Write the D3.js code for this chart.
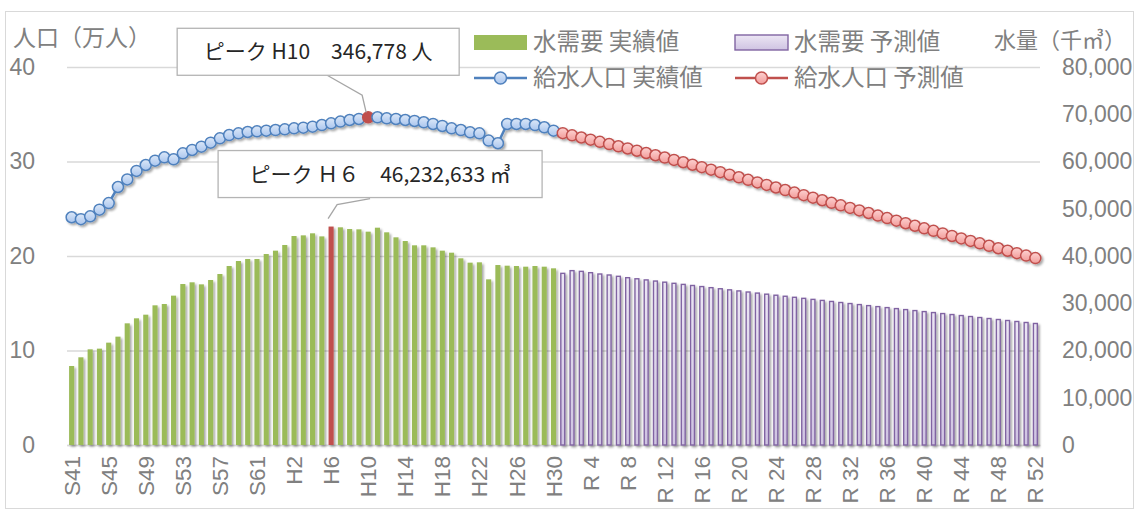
<!DOCTYPE html>
<html>
<head>
<meta charset="utf-8">
<script src="https://cdn.jsdelivr.net/npm/d3@7"></script>
<style>
  body { margin: 0; background: #fff; }
  svg { display: block; font-family: "Noto Sans CJK JP", "Noto Sans", sans-serif; }
  .tick text { fill: #808080; font-size: 23px; font-weight: 300; }
  .xaxis .tick text { font-size: 22.5px; }
</style>
</head>
<body>
<svg id="chart" width="1137" height="511"></svg>
<script>
// eras -> category labels (S41..S63, H1..H30, R1..R52)
var eras = [["S", 41, 63], ["H", 1, 30], ["R ", 1, 52]];
var categories = [];
eras.forEach(function(e) {
	for (var n = e[1]; n <= e[2]; n++) categories.push(e[0] + n);
});

var tickLabels = ["S41", "S45", "S49", "S53", "S57", "S61", "H2", "H6", "H10", "H14", "H18", "H22", "H26", "H30",
	"R 4", "R 8", "R 12", "R 16", "R 20", "R 24", "R 28", "R 32", "R 36", "R 40", "R 44", "R 48", "R 52"];

// 水需要 (千m3) S41..H30
var waterActual = [16720, 18560, 20250, 20390, 21660, 22930, 25750, 26810, 27580, 29560,
	29840, 31610, 34070, 34430, 34000, 34920, 36190, 37880, 38940, 39370,
	39370, 40420, 41130, 42330, 44230, 44370, 44800, 44150, 46233, 46070,
	45710, 45640, 45150, 45990, 45010, 43950, 43170, 42260, 42260, 41830,
	41130, 40700, 39510, 38590, 38660, 35060, 38090, 37950, 37880, 37740,
	37880, 37740, 37390];
// 水需要 予測 (千m3) R1..R52
var waterForecast = [36330, 36900, 36750, 36470, 36190, 35980, 35700, 35410, 35180, 34940,
	34700, 34460, 34220, 33990, 33760, 33530, 33300, 33070, 32840, 32610,
	32380, 32150, 31920, 31700, 31480, 31260, 31040, 30820, 30600, 30380,
	30160, 29940, 29720, 29500, 29290, 29080, 28870, 28660, 28450, 28240,
	28030, 27820, 27610, 27400, 27190, 26980, 26770, 26560, 26350, 26140,
	25930, 25720];

// 給水人口 (万人) S41..H30
var popActual = [24.1, 23.9, 24.2, 24.9, 25.6, 27.3, 28.1, 29.0, 29.63, 30.09,
	30.44, 30.23, 30.86, 31.22, 31.57, 31.99, 32.45, 32.80, 32.98, 33.12,
	33.19, 33.26, 33.33, 33.40, 33.51, 33.58, 33.69, 33.86, 34.04, 34.22,
	34.39, 34.50, 34.6778, 34.68, 34.57, 34.50, 34.39, 34.29, 34.15, 33.97,
	33.76, 33.51, 33.33, 33.09, 32.98, 32.21, 31.93, 33.97, 33.97, 33.97,
	33.86, 33.62, 33.26];
// 給水人口 予測 (万人) R1..R52
var popForecast = [33.00, 32.77, 32.54, 32.31, 32.08, 31.85, 31.61, 31.38, 31.14, 30.90,
	30.66, 30.42, 30.17, 29.92, 29.66, 29.40, 29.14, 28.87, 28.60, 28.33,
	28.06, 27.79, 27.52, 27.25, 26.98, 26.71, 26.44, 26.17, 25.90, 25.63,
	25.36, 25.09, 24.82, 24.55, 24.28, 24.01, 23.74, 23.47, 23.20, 22.93,
	22.66, 22.39, 22.12, 21.86, 21.60, 21.34, 21.08, 20.82, 20.56, 20.30,
	20.04, 19.78];

var leftTicks = [0, 10, 20, 30, 40];
var rightTicks = [0, 10000, 20000, 30000, 40000, 50000, 60000, 70000, 80000];

var peakPop = { label: "H10", text: "ピーク H10　346,778 人" };
var peakWater = { label: "H6", text: "ピーク Ｈ６　46,232,633 ㎥" };

var legendItems = [
	{ name: "水需要 実績値", type: "bar", fill: "#9bbb59", stroke: "none" },
	{ name: "水需要 予測値", type: "bar", fill: "url(#gPurple)", stroke: "#8064a2" },
	{ name: "給水人口 実績値", type: "line", fill: "url(#gBlue)", stroke: "#4f81bd" },
	{ name: "給水人口 予測値", type: "line", fill: "url(#gRed)", stroke: "#c0504d" }
];

var svg = d3.select("#chart");
var plotLeft = 67, plotRight = 1040, plotTop = 67, plotBottom = 445;

// defs: gradients and shadow
var defs = svg.append("defs");
function grad(id, c1, c2) {
	var g = defs.append("linearGradient").attr("id", id).attr("x1", 0).attr("y1", 0).attr("x2", 0).attr("y2", 1);
	g.append("stop").attr("offset", "0%").attr("stop-color", c1);
	g.append("stop").attr("offset", "100%").attr("stop-color", c2);
}
grad("gBlue", "#dce8f8", "#a9c5ee");
grad("gRed", "#fdd2d1", "#f29c9a");
grad("gPurple", "#ece6f4", "#cfc3e2");
var f = defs.append("filter").attr("id", "shadow").attr("x", "-50%").attr("y", "-50%").attr("width", "200%").attr("height", "200%");
f.append("feDropShadow").attr("dx", 1.8).attr("dy", 1.8).attr("stdDeviation", 1.2)
	.attr("flood-color", "#000").attr("flood-opacity", 0.35);

// outer frame
svg.append("rect").attr("x", 5.5).attr("y", 11.5).attr("width", 1128).attr("height", 497)
	.attr("fill", "none").attr("stroke", "#d9d9d9");

var x = d3.scaleBand().domain(categories).range([plotLeft, plotRight]).paddingInner(0.45).paddingOuter(0.225);
var yL = d3.scaleLinear().domain([0, 40]).range([plotBottom, plotTop]);
var yR = d3.scaleLinear().domain([0, 80000]).range([plotBottom, plotTop]);
var cx = function(c) { return x(c) + x.bandwidth() / 2; };

// gridlines
svg.append("g").attr("class", "grid").attr("transform", "translate(" + plotLeft + ",0)")
	.call(d3.axisLeft(yL).tickValues(leftTicks).tickSize(-(plotRight - plotLeft)).tickFormat(""))
	.call(function(g) {
		g.select(".domain").remove();
		g.selectAll("line").attr("stroke", "#d9d9d9").attr("stroke-width", 1.3);
	});

// left axis
svg.append("g").attr("transform", "translate(" + plotLeft + ",0)")
	.call(d3.axisLeft(yL).tickValues(leftTicks).tickSize(0).tickPadding(32))
	.call(function(g) { g.select(".domain").remove(); });

// right axis
svg.append("g").attr("transform", "translate(" + plotRight + ",0)")
	.call(d3.axisRight(yR).tickValues(rightTicks).tickSize(0).tickPadding(22).tickFormat(d3.format(",")))
	.call(function(g) { g.select(".domain").remove(); });

// bottom axis
svg.append("g").attr("class", "xaxis").attr("transform", "translate(0," + plotBottom + ")")
	.call(d3.axisBottom(x).tickValues(tickLabels).tickSize(0))
	.call(function(g) {
		g.select(".domain").attr("stroke", "#d9d9d9").attr("stroke-width", 1.3);
		g.selectAll("text").attr("transform", "rotate(-90)").attr("x", -11).attr("y", 0)
			.attr("dy", "0.36em").style("text-anchor", "end");
	});

// bars
var waterActualData = waterActual.map(function(v, i) { return { c: categories[i], v: v }; });
var waterForecastData = waterForecast.map(function(v, i) { return { c: categories[waterActual.length + i], v: v }; });

var bars = svg.append("g").attr("filter", "url(#shadow)");
bars.selectAll("rect.act").data(waterActualData).enter().append("rect")
	.attr("class", "act")
	.attr("x", function(d) { return x(d.c); })
	.attr("y", function(d) { return yR(d.v); })
	.attr("width", x.bandwidth())
	.attr("height", function(d) { return plotBottom - yR(d.v); })
	.attr("fill", function(d) { return d.c == peakWater.label ? "#c0504d" : "#9bbb59"; });
bars.selectAll("rect.fc").data(waterForecastData).enter().append("rect")
	.attr("class", "fc")
	.attr("x", function(d) { return x(d.c) + 0.6; })
	.attr("y", function(d) { return yR(d.v); })
	.attr("width", x.bandwidth() - 1.2)
	.attr("height", function(d) { return plotBottom - yR(d.v); })
	.attr("fill", "url(#gPurple)").attr("stroke", "#8064a2").attr("stroke-width", 1.4);

// population lines
var popActualData = popActual.map(function(v, i) { return { c: categories[i], v: v }; });
var popForecastData = popForecast.map(function(v, i) { return { c: categories[popActual.length + i], v: v }; });
var line = d3.line().x(function(d) { return cx(d.c); }).y(function(d) { return yL(d.v); });

function drawSeries(data, stroke, fill) {
	var g = svg.append("g").attr("filter", "url(#shadow)");
	g.append("path").datum(data).attr("d", line).attr("fill", "none").attr("stroke", stroke).attr("stroke-width", 2.5);
	g.selectAll("circle").data(data).enter().append("circle")
		.attr("cx", function(d) { return cx(d.c); })
		.attr("cy", function(d) { return yL(d.v); })
		.attr("r", 5.5)
		.attr("fill", function(d) { return d.c == peakPop.label ? "#c0504d" : fill; })
		.attr("stroke", function(d) { return d.c == peakPop.label ? "#c0504d" : stroke; })
		.attr("stroke-width", 1.5);
}
drawSeries(popActualData, "#4f81bd", "url(#gBlue)");
drawSeries(popForecastData, "#c0504d", "url(#gRed)");

// callouts
function callout(px, py, box, leader, text) {
	var g = svg.append("g");
	g.append("polyline")
		.attr("points", leader.map(function(p) { return (px + p[0]) + "," + (py + p[1]); }).join(" "))
		.attr("fill", "none").attr("stroke", "#a6a6a6").attr("stroke-width", 1.3);
	g.append("rect").attr("x", px + box[0]).attr("y", py + box[1]).attr("width", box[2]).attr("height", box[3])
		.attr("fill", "#fff").attr("stroke", "#b4b4b4").attr("stroke-width", 1.3);
	g.append("text").attr("x", px + box[0] + box[2] / 2).attr("y", py + box[1] + box[3] / 2)
		.attr("dy", "0.36em").attr("text-anchor", "middle")
		.attr("font-size", 21).attr("fill", "#262626").text(text);
}
var pPop = popActualData.filter(function(d) { return d.c == peakPop.label; })[0];
callout(cx(pPop.c), yL(pPop.v), [-191, -89, 282, 47], [[-41, -42], [-6, -22], [-2, -5]], peakPop.text);
var pWater = waterActualData.filter(function(d) { return d.c == peakWater.label; })[0];
callout(cx(pWater.c), yR(pWater.v), [-113, -76, 324, 47], [[39, -28], [6, -22], [-3, -8]], peakWater.text);

// axis titles
svg.append("text").attr("x", 13).attr("y", 46).attr("font-size", 23).attr("fill", "#808080").text("人口（万人）");
svg.append("text").attr("x", 994).attr("y", 48).attr("font-size", 22).attr("fill", "#808080").text("水量（千㎥）");

// legend
var lg = svg.append("g");
legendItems.forEach(function(it, i) {
	var lx = 474 + (i % 2) * 261, ly = 42 + Math.floor(i / 2) * 36;
	if (it.type == "bar") {
		lg.append("rect").attr("x", lx).attr("y", ly - 7).attr("width", 53).attr("height", 15)
			.attr("fill", it.fill).attr("stroke", it.stroke).attr("stroke-width", 1.4);
	} else {
		lg.append("line").attr("x1", lx).attr("x2", lx + 53).attr("y1", ly).attr("y2", ly)
			.attr("stroke", it.stroke).attr("stroke-width", 2.5);
		lg.append("circle").attr("cx", lx + 26.5).attr("cy", ly).attr("r", 6)
			.attr("fill", it.fill).attr("stroke", it.stroke).attr("stroke-width", 1.5);
	}
	lg.append("text").attr("x", lx + 59).attr("y", ly).attr("dy", "0.36em")
		.attr("font-size", 23.5).attr("fill", "#808080").text(it.name);
});
</script>
</body>
</html>
